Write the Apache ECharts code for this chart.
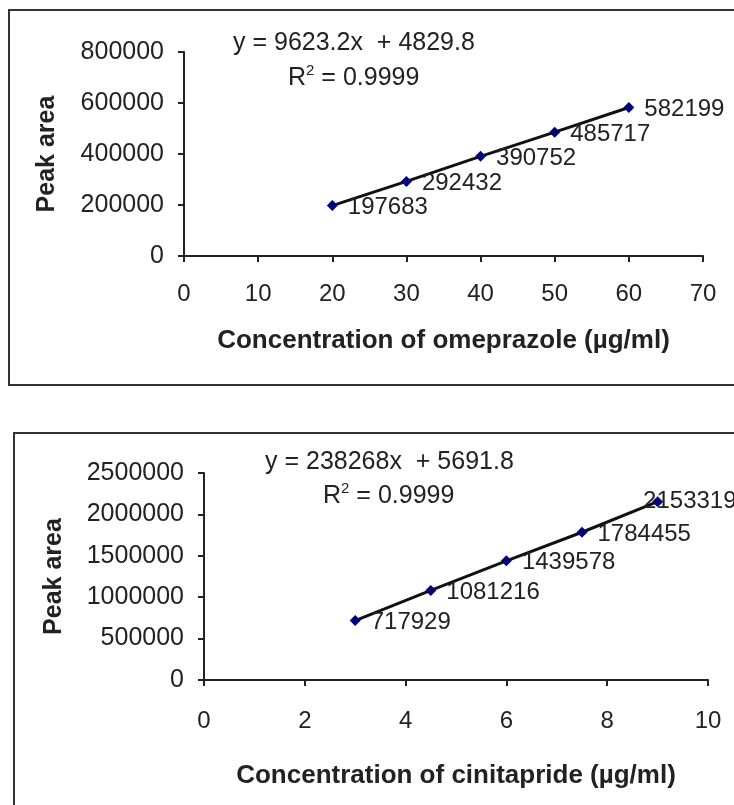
<!DOCTYPE html>
<html>
<head>
<meta charset="utf-8">
<script src="https://cdn.jsdelivr.net/npm/echarts@6/dist/echarts.min.js"></script>
<style>
html,body{margin:0;padding:0;background:#fff;}
#c{width:734px;height:805px;}
</style>
</head>
<body>
<div id="c"></div>
<script>
// ---- data ----
const omeConc = [20, 30, 40, 50, 60];
const omeArea = [197683, 292432, 390752, 485717, 582199];
const cinConc = [3, 4.5, 6, 7.5, 9];
const cinArea = [717929, 1081216, 1439578, 1784455, 2153319];
const omeEquation = 'y = 9623.2x  + 4829.8';
const omeR2 = '0.9999';
const cinEquation = 'y = 238268x  + 5691.8';
const cinR2 = '0.9999';
const omeXAxisName = 'Concentration of omeprazole (µg/ml)';
const cinXAxisName = 'Concentration of cinitapride (µg/ml)';
const yAxisName = 'Peak area';

const FONT = 'Liberation Sans, Arial, sans-serif';
const TXT = '#222';

function pairs(xs, ys) { return xs.map((x, i) => [x, ys[i]]); }

function xAxisCfg(idx, min, max, interval, name, labelMargin, nameGap) {
  return {
    gridIndex: idx, type: 'value', min: min, max: max, interval: interval,
    name: name, nameLocation: 'middle', nameGap: nameGap,
    nameTextStyle: { fontFamily: FONT, fontSize: 26, fontWeight: 'bold', color: TXT },
    axisLine: { onZero: false, lineStyle: { color: '#222', width: 2 } },
    axisTick: { show: true, inside: false, length: 6, lineStyle: { color: '#222', width: 2 } },
    axisLabel: { fontFamily: FONT, fontSize: 24, color: TXT, margin: labelMargin, formatter: v => String(v) },
    splitLine: { show: false }
  };
}
function yAxisCfg(idx, min, max, interval, nameGap) {
  return {
    gridIndex: idx, type: 'value', min: min, max: max, interval: interval,
    name: yAxisName, nameLocation: 'middle', nameGap: nameGap, nameRotate: 90,
    nameTextStyle: { fontFamily: FONT, fontSize: 25, fontWeight: 'bold', color: TXT },
    axisLine: { show: true, onZero: false, lineStyle: { color: '#222', width: 2 } },
    axisTick: { show: true, inside: false, length: 6, lineStyle: { color: '#222', width: 2 } },
    axisLabel: { fontFamily: FONT, fontSize: 25, color: TXT, margin: 20, formatter: v => String(v) },
    splitLine: { show: false }
  };
}
function seriesCfg(idx, xs, ys, lastOffset) {
  const data = pairs(xs, ys).map((p, i) => {
    const d = { value: p };
    if (i === xs.length - 1 && lastOffset) d.label = { offset: lastOffset };
    return d;
  });
  return {
    type: 'line', xAxisIndex: idx, yAxisIndex: idx, data: data,
    symbol: 'diamond', symbolSize: 11, showAllSymbol: true,
    lineStyle: { color: '#111', width: 3 },
    itemStyle: { color: '#00007a' },
    label: {
      show: true, position: 'right', distance: 10, offset: [0, 2],
      fontFamily: FONT, fontSize: 24, color: TXT,
      formatter: p => String(p.value[1])
    },
    z: 3, animation: false
  };
}
function r2Text(v) { return '{a|R}{s|2}{a| = ' + v + '}'; }
const richStyles = {
  a: { fontFamily: FONT, fontSize: 25, fill: TXT, lineHeight: 28, verticalAlign: 'bottom' },
  s: { fontFamily: FONT, fontSize: 15, fill: TXT, lineHeight: 15, verticalAlign: 'top' }
};

const chart = echarts.init(document.getElementById('c'), null, { renderer: 'canvas' });
chart.setOption({
  backgroundColor: '#fff',
  animation: false,
  grid: [
    { left: 184, right: 31, top: 52, height: 204 },
    { left: 204, right: 26, top: 473, height: 207 }
  ],
  xAxis: [
    xAxisCfg(0, 0, 70, 10, omeXAxisName, 26, 72),
    xAxisCfg(1, 0, 10, 2, cinXAxisName, 29, 83)
  ],
  yAxis: [
    yAxisCfg(0, 0, 800000, 200000, 124),
    yAxisCfg(1, 0, 2500000, 500000, 137)
  ],
  series: [
    seriesCfg(0, omeConc, omeArea, null),
    seriesCfg(1, cinConc, cinArea, [-30, 0])
  ],
  graphic: [
    { type: 'rect', shape: { x: 9, y: 10, width: 760, height: 375 }, style: { fill: 'none', stroke: '#333', lineWidth: 2 }, silent: true },
    { type: 'rect', shape: { x: 14, y: 433, width: 760, height: 420 }, style: { fill: 'none', stroke: '#333', lineWidth: 2 }, silent: true },
    { type: 'text', left: 233, top: 31, style: { text: omeEquation, fontFamily: FONT, fontSize: 25, fill: TXT } },
    { type: 'text', left: 288, top: 63, style: { text: r2Text(omeR2), rich: richStyles } },
    { type: 'text', left: 265, top: 450, style: { text: cinEquation, fontFamily: FONT, fontSize: 25, fill: TXT } },
    { type: 'text', left: 323, top: 481, style: { text: r2Text(cinR2), rich: richStyles } }
  ]
});
</script>
</body>
</html>
